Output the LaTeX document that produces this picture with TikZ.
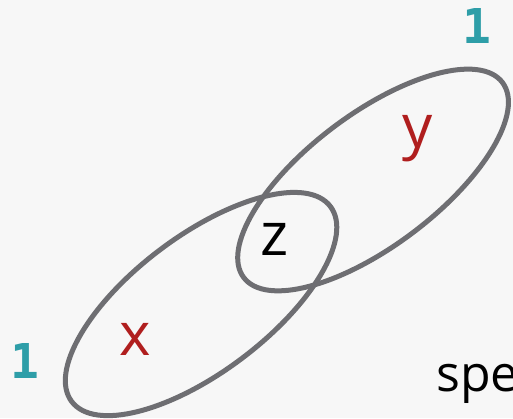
\documentclass[tikz,border=0pt]{standalone}
\usepackage{fontspec}
\setmainfont{Open Sans}
\newfontfamily\digitfont{DejaVu Sans Mono}
\usepackage{tikz}

\definecolor{bggray}{HTML}{F7F7F7}
\definecolor{rimgray}{HTML}{6E6E72}
\definecolor{varred}{HTML}{B01E1E}
\definecolor{countteal}{HTML}{2E9EA8}

\tikzset{
  rim/.style={draw=rimgray, line width=5pt},
  varlabel/.style={anchor=base, inner sep=0pt, text=varred, font=\fontsize{60}{60}\selectfont},
  midlabel/.style={anchor=base, inner sep=0pt, text=black, font=\fontsize{60}{60}\selectfont},
  countlabel/.style={anchor=base, inner sep=0pt, text=countteal, font=\digitfont\bfseries\fontsize{48}{48}\selectfont}
}

\begin{document}
\begin{tikzpicture}[x=1pt,y=1pt,yscale=-1,xscale=1]

\useasboundingbox[fill=bggray] (0,0) rectangle (513,418);

\coordinate (cx) at (201,304);
\coordinate (cy) at (373,180);

\draw[rim, rotate around={-37:(cx)}] (cx) ellipse [x radius=162, y radius=68];
\draw[rim, rotate around={-37:(cy)}] (cy) ellipse [x radius=162, y radius=66];

\node[varlabel] (x) at (135,355) {x};
\node[varlabel] (y) at (418,147) {y};
\node[midlabel] (z) at (275,255) {z};

\node[countlabel] (nx) at (25,378) {1};
\node[countlabel] (ny) at (477,43) {1};

\node[anchor=base west, inner sep=0pt, font=\fontsize{50}{50}\selectfont] (spe) at (436,391) {spe};

\end{tikzpicture}
\end{document}
